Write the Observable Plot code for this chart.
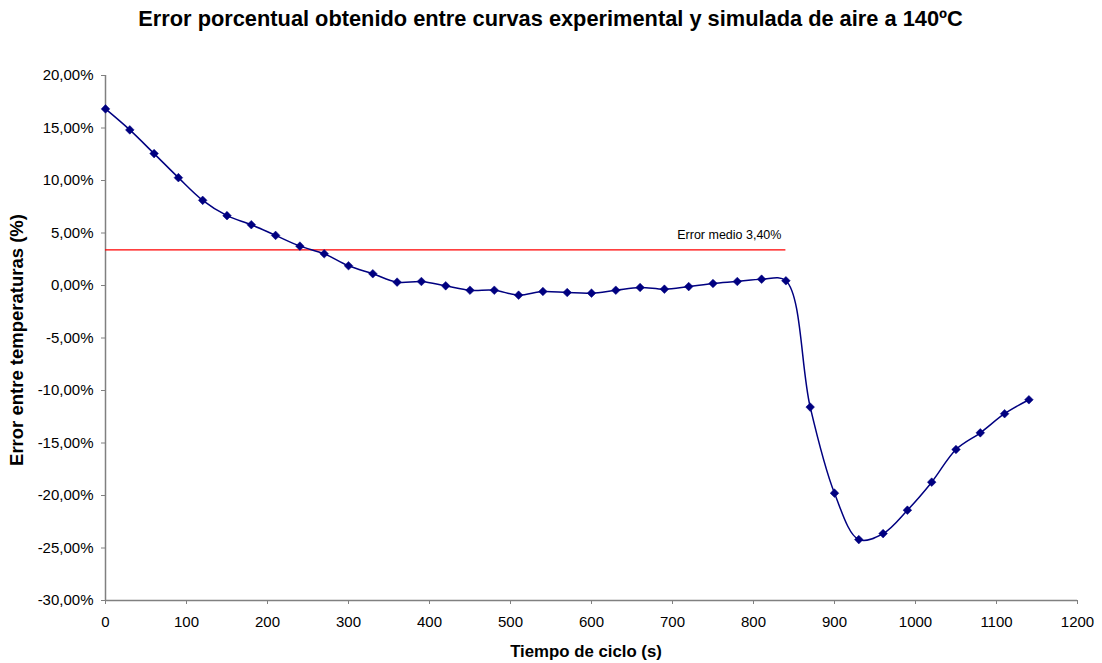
<!DOCTYPE html>
<html>
<head>
<meta charset="utf-8">
<script src="https://cdn.jsdelivr.net/npm/d3@7"></script>
<script src="https://cdn.jsdelivr.net/npm/@observablehq/plot@0.6"></script>
<style>
  body { margin: 0; background: #fff; }
  svg { font-family: "Liberation Sans", Arial, sans-serif; }
</style>
</head>
<body>
<div id="chart"></div>
<script>
const tiempo = [0,30,60,90,120,150,180,210,240,270,300,330,360,390,420,450,480,510,540,570,600,630,660,690,720,750,780,810,840,870,900,930,960,990,1020,1050,1080,1110,1140];
const errorPct = [16.82,14.82,12.56,10.27,8.11,6.65,5.79,4.77,3.75,3.02,1.88,1.12,0.32,0.38,-0.03,-0.45,-0.45,-0.92,-0.57,-0.67,-0.73,-0.45,-0.19,-0.35,-0.10,0.19,0.38,0.60,0.45,-11.58,-19.78,-24.20,-23.63,-21.40,-18.73,-15.62,-14.03,-12.21,-10.88];
const errorMedio = 3.40;
const errorMedioFin = 840;
const xTicks = [0,100,200,300,400,500,600,700,800,900,1000,1100,1200];
const yTicks = [-30,-25,-20,-15,-10,-5,0,5,10,15,20];
const titulo = "Error porcentual obtenido entre curvas experimental y simulada de aire a 140ºC";
const tituloX = "Tiempo de ciclo (s)";
const tituloY = "Error entre temperaturas (%)";
const etiquetaMedio = "Error medio 3,40%";

const data = tiempo.map((t, i) => ({t, e: errorPct[i]}));
const fmtY = d => d.toFixed(2).replace(".", ",") + "%";
const fmtX = d => String(d);
const navy = "#000080";
const axisGray = "#808080";

const chart = Plot.plot({
  width: 1102,
  height: 663,
  marginLeft: 105,
  marginRight: 25,
  marginTop: 75,
  marginBottom: 63,
  style: {fontFamily: "'Liberation Sans', Arial, sans-serif", fontSize: "15px", color: "#000", background: "#fff"},
  x: {domain: [0, 1200]},
  y: {domain: [-30, 20]},
  marks: [
    Plot.axisX(xTicks, {tickSize: 4, tickPadding: 12, stroke: axisGray, fill: "#000", label: null, tickFormat: fmtX, fontSize: 15}),
    Plot.axisY(yTicks, {tickSize: 4, tickPadding: 8, stroke: axisGray, fill: "#000", label: null, tickFormat: fmtY, fontSize: 15}),
    Plot.ruleX([0], {stroke: axisGray, strokeWidth: 1.5}),
    Plot.ruleY([-30], {stroke: axisGray, strokeWidth: 1.5}),
    Plot.ruleY([errorMedio], {x1: 0, x2: errorMedioFin, stroke: "#ff0000", strokeWidth: 1.2}),
    Plot.text([etiquetaMedio], {x: 834.5, y: errorMedio, textAnchor: "end", dy: -15, fontSize: 12.5, fill: "#000"}),
    Plot.line(data, {x: "t", y: "e", stroke: navy, strokeWidth: 1.5, curve: "catmull-rom"}),
    Plot.dot(data, {x: "t", y: "e", symbol: "diamond2", r: 3.9, fill: navy, stroke: navy, strokeWidth: 0.5}),
    Plot.text([titulo], {frameAnchor: "top", textAnchor: "middle", lineAnchor: "middle", dx: -41, dy: -56, fontWeight: "bold", fontSize: 21.8, fill: "#000"}),
    Plot.text([tituloX], {frameAnchor: "bottom", textAnchor: "middle", lineAnchor: "middle", dx: -5.5, dy: 51, fontWeight: "bold", fontSize: 16.8, fill: "#000"}),
    Plot.text([tituloY], {frameAnchor: "left", textAnchor: "middle", lineAnchor: "middle", dx: -88, dy: 2, rotate: -90, fontWeight: "bold", fontSize: 18.5, fill: "#000"})
  ]
});
document.getElementById("chart").appendChild(chart);
</script>
</body>
</html>
